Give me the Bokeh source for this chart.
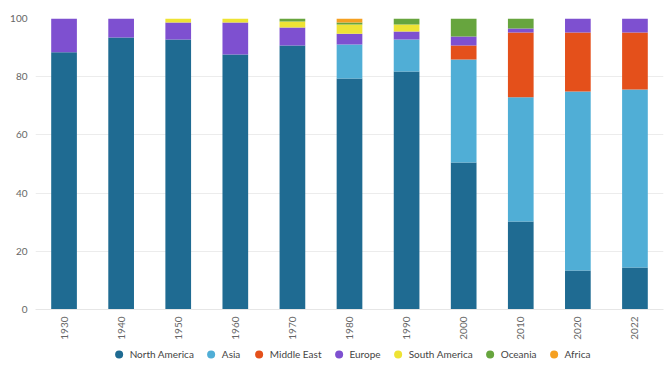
from bokeh.plotting import figure
from bokeh.layouts import column
from bokeh.models import ColumnDataSource, Range1d, Legend, LegendItem, FixedTicker
from bokeh.embed import file_html
from bokeh.resources import INLINE

years = ["1930", "1940", "1950", "1960", "1970", "1980", "1990", "2000", "2010", "2020", "2022"]
north_america = [88.4, 93.5, 92.8, 87.6, 90.7, 79.4, 81.8, 50.5, 30.2, 13.4, 14.4]
asia = [0, 0, 0, 0, 0, 11.7, 11.0, 35.4, 42.7, 61.5, 61.2]
middle_east = [0, 0, 0, 0, 0, 0, 0, 4.8, 22.3, 20.3, 19.6]
europe = [11.6, 6.5, 5.8, 11.0, 6.2, 3.7, 2.7, 3.1, 1.4, 4.8, 4.8]
south_america = [0, 0, 1.4, 1.4, 2.1, 3.1, 2.4, 0, 0, 0, 0]
oceania = [0, 0, 0, 0, 1.0, 0.7, 2.1, 6.2, 3.4, 0, 0]
africa = [0, 0, 0, 0, 0, 1.4, 0, 0, 0, 0, 0]

series = ["North America", "Asia", "Middle East", "Europe", "South America", "Oceania", "Africa"]
colors = ["#1f6b92", "#50aed6", "#e4501b", "#7e50d0", "#eee334", "#67a53e", "#f5a021"]
keys = ["na", "asia", "me", "eu", "sa", "oc", "af"]

source = ColumnDataSource(dict(years=years, na=north_america, asia=asia, me=middle_east,
                               eu=europe, sa=south_america, oc=oceania, af=africa))

FONT = "Lato"
p = figure(x_range=years, y_range=Range1d(0, 100), width=664, height=344,
           output_backend="svg", toolbar_location=None,
           min_border_top=18, min_border_left=35, min_border_right=1, min_border_bottom=35)
p.outline_line_color = None
p.background_fill_color = "white"

p.vbar_stack(keys, x="years", width=0.45, color=colors, source=source, line_color=None)

p.xgrid.grid_line_color = None
p.ygrid.grid_line_color = "#ececec"
p.yaxis.ticker = FixedTicker(ticks=[0, 20, 40, 60, 80, 100])
p.yaxis.axis_line_color = None
p.yaxis.major_tick_line_color = None
p.yaxis.major_tick_out = 0
p.yaxis.major_tick_in = 0
p.yaxis.minor_tick_line_color = None
p.yaxis.minor_tick_out = 0
p.yaxis.major_label_text_color = "#666666"
p.yaxis.major_label_text_font = FONT
p.yaxis.major_label_text_font_size = "10px"
p.yaxis.major_label_standoff = 8

p.xaxis.axis_line_color = "#e6e6e6"
p.xaxis.major_tick_line_color = None
p.xaxis.major_tick_out = 0
p.xaxis.major_tick_in = 0
p.xaxis.minor_tick_line_color = None
p.xaxis.minor_tick_out = 0
p.xaxis.major_label_orientation = 1.5708
p.xaxis.major_label_text_color = "#666666"
p.xaxis.major_label_text_font = FONT
p.xaxis.major_label_text_font_size = "10px"
p.xaxis.major_label_standoff = 7

# legend row: a separate strip whose frame holds the legend
lg = figure(width=664, height=20, x_range=years, y_range=Range1d(0, 100),
            output_backend="svg", toolbar_location=None,
            min_border_left=0, min_border_right=0, min_border_top=0, min_border_bottom=0)
lg.axis.visible = False
lg.grid.visible = False
lg.outline_line_color = None

items = []
for s, c, k in zip(series, colors, keys):
    # zero-size markers: nothing drawn on the strip, the legend draws its own circle
    r = lg.scatter(x="years", y=k, source=source, marker="circle", size=0,
                   fill_color=c, line_alpha=0)
    items.append(LegendItem(label=s, renderers=[r]))
legend = Legend(items=items, orientation="horizontal", location="center",
                label_text_font=FONT, label_text_font_size="10px", label_text_color="#444444",
                glyph_width=22, glyph_height=20, spacing=6, label_standoff=0,
                border_line_color=None, background_fill_alpha=0, padding=0, margin=0,
                label_height=12)
lg.add_layout(legend, "center")

layout = column(p, lg, spacing=0)
open("out.html", "w").write(file_html(layout, INLINE))
